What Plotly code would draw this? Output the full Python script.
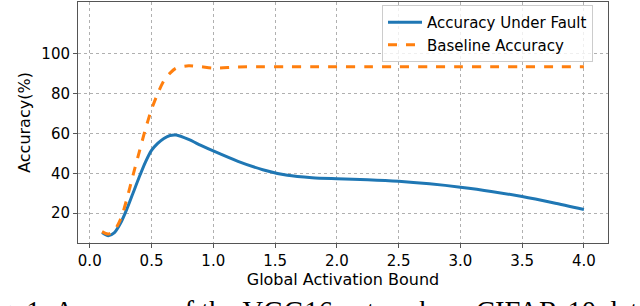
import plotly.graph_objects as go

# Data
bound = [0.1, 0.15, 0.2, 0.25, 0.3, 0.35, 0.4, 0.45, 0.5, 0.55, 0.6, 0.65, 0.7,
         0.8, 0.9, 1.0, 1.2, 1.4, 1.6, 1.8, 2.0, 2.25, 2.5, 2.75, 3.0, 3.25,
         3.5, 3.75, 4.0]
acc_fault = [10.3, 8.7, 10.2, 15.0, 22.0, 30.0, 38.0, 45.5, 51.5, 55.0, 57.5,
             59.0, 59.2, 57.0, 54.0, 51.2, 46.0, 41.8, 39.0, 37.8, 37.3, 36.8,
             36.0, 34.7, 33.0, 30.9, 28.3, 25.2, 21.8]
acc_base = [10.7, 9.5, 11.5, 17.0, 27.0, 39.0, 50.5, 62.0, 72.0, 80.0, 86.5,
            90.3, 92.8, 94.0, 93.5, 92.8, 93.4, 93.5, 93.5, 93.5, 93.5, 93.5,
            93.5, 93.5, 93.5, 93.5, 93.5, 93.5, 93.5]
x_ticks = [0.0, 0.5, 1.0, 1.5, 2.0, 2.5, 3.0, 3.5, 4.0]
y_ticks = [20, 40, 60, 80, 100]
caption = "Fig. 1: Accuracy of the VGG16 network on CIFAR-10 data"

W, H = 640, 306
L, R, T, B = 78, 32, 2, 63
pw = W - L - R
ph = H - T - B

fig = go.Figure()
fig.add_trace(go.Scatter(x=bound, y=acc_fault, mode="lines",
                         name="Accuracy Under Fault",
                         line=dict(color="#1f77b4", width=3, shape="spline", smoothing=0.8)))
fig.add_trace(go.Scatter(x=bound, y=acc_base, mode="lines",
                         name="Baseline Accuracy",
                         line=dict(color="#ff7f0e", width=3, dash="dash", shape="spline", smoothing=0.8)))

axis_common = dict(
    showline=True, linecolor="#555555", linewidth=1, mirror=True,
    ticks="outside", ticklen=4, tickcolor="#555555",
    showgrid=True, gridcolor="#b0b0b0", griddash="dot", gridwidth=1,
    zeroline=False, automargin=False,
    tickfont=dict(family="DejaVu Sans", size=15, color="black"),
)

fig.update_layout(
    width=W, height=H,
    margin=dict(l=L, r=R, t=T, b=B, autoexpand=False),
    paper_bgcolor="white", plot_bgcolor="white",
    showlegend=True,
    legend=dict(x=(382 - L) / pw, y=1 - (5 - T) / ph, xanchor="left", yanchor="top",
                bgcolor="rgba(255,255,255,0.8)", bordercolor="#cccccc", borderwidth=1,
                font=dict(family="DejaVu Sans", size=15, color="black"),
                itemwidth=34, tracegroupgap=0),
    xaxis=dict(range=[-0.095, 4.195], tickvals=x_ticks, tickformat=".1f",
               title=dict(text="Global Activation Bound", standoff=2,
                          font=dict(family="DejaVu Sans", size=16, color="black")),
               **axis_common),
    yaxis=dict(range=[5, 126], tickvals=y_ticks,
               title=dict(text="Accuracy(%)", standoff=6,
                          font=dict(family="DejaVu Sans", size=16, color="black")),
               **axis_common),
)

fig.add_annotation(text=caption, xref="paper", yref="paper",
                   x=(-28 - L) / pw, xanchor="left",
                   y=-(294 - (T + ph)) / ph, yanchor="top",
                   showarrow=False,
                   font=dict(family="Liberation Serif", size=28.5, color="black"))

fig.write_html("out.html",
               config={"displayModeBar": False},
               post_script="document.body.style.margin='0';document.body.style.overflow='hidden';")
